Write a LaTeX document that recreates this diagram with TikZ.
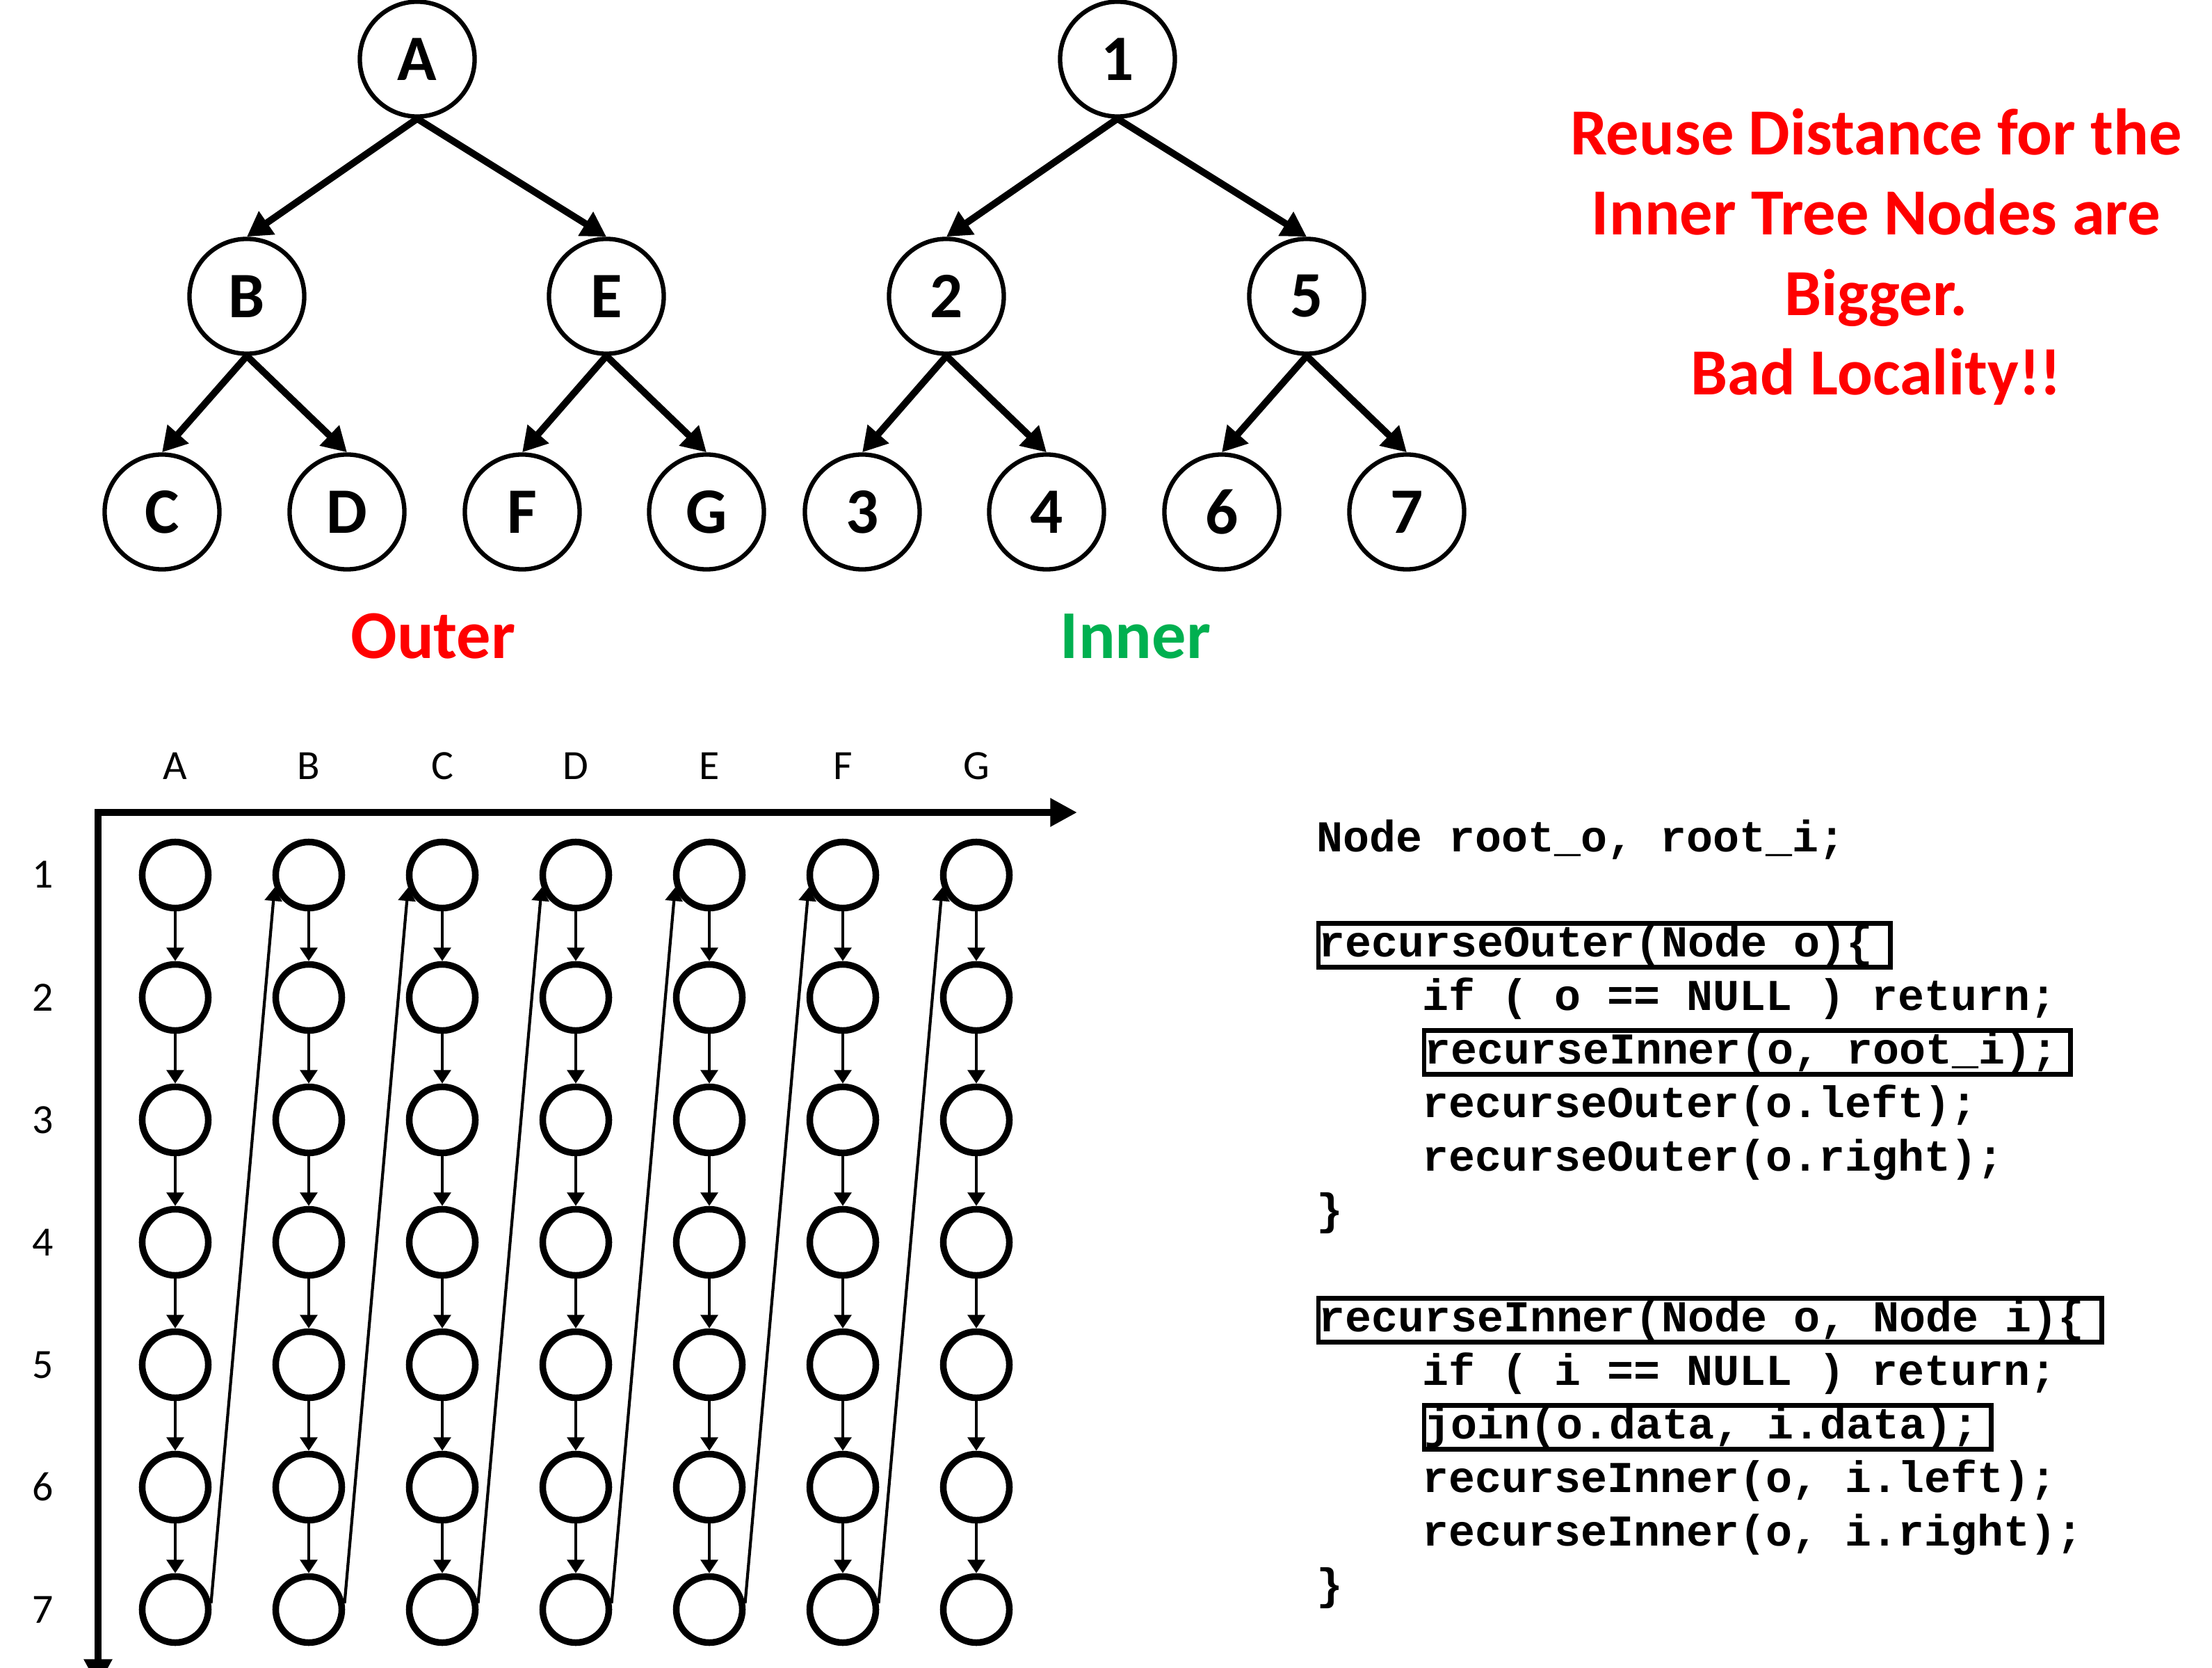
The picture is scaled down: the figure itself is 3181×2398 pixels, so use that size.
\documentclass[tikz,border=0pt]{standalone}
\usepackage{fontspec}
\setmainfont{Carlito}
\newfontfamily\codefont{Liberation Mono}
\usetikzlibrary{arrows.meta}
\definecolor{pptred}{RGB}{255,0,0}
\definecolor{pptgreen}{RGB}{0,176,80}
\begin{document}
\begin{tikzpicture}[x=0.01cm,y=-0.01cm,
  tnode/.style={circle,draw,line width=1.8pt,minimum size=1.65cm,inner sep=0pt,font=\fontsize{26.5}{30}\selectfont\bfseries},
  tedge/.style={line width=2.8pt,-{Triangle[length=10pt,width=11pt]}},
  gnode/.style={circle,draw,line width=2.7pt,minimum size=0.95cm,inner sep=0pt},
  gedge/.style={line width=1.2pt,-{Triangle[length=5.5pt,width=7pt]}},
  axis/.style={line width=3.1pt},
  glabel/.style={anchor=base,inner sep=0pt,font=\fontsize{17}{20}\selectfont},
  code/.style={anchor=west,inner xsep=0pt,inner ysep=0pt,text height=13.7pt,text depth=4.3pt,font=\fontsize{18}{22}\selectfont\codefont\bfseries},
  codebox/.style={code,draw,line width=1.8pt},
  redtext/.style={anchor=base,inner sep=0pt,text=pptred,font=\fontsize{26.9}{32}\selectfont\bfseries},
  treelabel/.style={anchor=base,inner sep=0pt,font=\fontsize{28}{32}\selectfont\bfseries}
]
\clip (0,0) rectangle (3181,2398);
\fill[white] (0,0) rectangle (3181,2398);

% Outer tree
\node[tnode] (A) at (600,85) {A};
\node[tnode] (B) at (355,426) {B};
\node[tnode] (E) at (872,426) {E};
\node[tnode] (C) at (233,736) {C};
\node[tnode] (D) at (499,736) {D};
\node[tnode] (F) at (751,736) {F};
\node[tnode] (G) at (1016,736) {G};
\draw[tedge] (A.south) -- (B.north);
\draw[tedge] (A.south) -- (E.north);
\draw[tedge] (B.south) -- (C.north);
\draw[tedge] (B.south) -- (D.north);
\draw[tedge] (E.south) -- (F.north);
\draw[tedge] (E.south) -- (G.north);

% Inner tree
\node[tnode] (n1) at (1607,85) {1};
\node[tnode] (n2) at (1361,426) {2};
\node[tnode] (n5) at (1879,426) {5};
\node[tnode] (n3) at (1240,736) {3};
\node[tnode] (n4) at (1505,736) {4};
\node[tnode] (n6) at (1757,736) {6};
\node[tnode] (n7) at (2023,736) {7};
\draw[tedge] (n1.south) -- (n2.north);
\draw[tedge] (n1.south) -- (n5.north);
\draw[tedge] (n2.south) -- (n3.north);
\draw[tedge] (n2.south) -- (n4.north);
\draw[tedge] (n5.south) -- (n6.north);
\draw[tedge] (n5.south) -- (n7.north);

\node[treelabel,text=pptred] (outerlbl) at (623,947) {Outer};
\node[treelabel,text=pptgreen] (innerlbl) at (1633,947) {Inner};

% Red note
\node[redtext] (t1) at (2698,223) {Reuse Distance for the};
\node[redtext] (t2) at (2698,338) {Inner Tree Nodes are};
\node[redtext] (t3) at (2698,454) {Bigger.};
\node[redtext] (t4) at (2698,568) {Bad Locality!!};

% Axes
\coordinate (hstart) at (136,1168);
\coordinate (hend) at (1549,1168);
\coordinate (vstart) at (141,1163);
\coordinate (vend) at (141,2424);
\draw[axis,-{Triangle[length=11pt,width=11pt]}] (hstart) -- (hend);
\draw[axis,-{Triangle[length=11pt,width=11pt]}] (vstart) -- (vend);

% Column and row labels
\foreach \l [count=\j] in {A,B,C,D,E,F,G} {
  \node[glabel] (c\l) at ({252+192*(\j-1)},1121) {\l};
}
\foreach \i in {1,...,7} {
  \node[glabel] (r\i) at (62,{1258+176*(\i-1)+19}) {\i};
}

% Grid nodes
\foreach \j in {1,...,7} {
  \foreach \i in {1,...,7} {
    \node[gnode] (g-\j-\i) at ({252+192*(\j-1)},{1258+176*(\i-1)}) {};
  }
}
% vertical arrows
\foreach \j in {1,...,7} {
  \foreach \i [evaluate=\i as \k using int(\i+1)] in {1,...,6} {
    \draw[gedge] (g-\j-\i.south) -- (g-\j-\k.north);
  }
}
% diagonal arrows
\foreach \j [evaluate=\j as \k using int(\j+1)] in {1,...,6} {
  \draw[gedge] (g-\j-7.10) -- (g-\k-1.200);
}

% Code
\node[code] (l0) at (1893,1208) {Node root\_o, root\_i;};
\node[codebox] (l2) at (1893,1359) {recurseOuter(Node o)\{\hspace*{7pt}};
\node[code] (l3) at (2045,1436) {if ( o == NULL ) return;};
\node[codebox] (l4) at (2045,1513) {recurseInner(o, root\_i);\hspace*{5pt}};
\node[code] (l5) at (2045,1590) {recurseOuter(o.left);};
\node[code] (l6) at (2045,1667) {recurseOuter(o.right);};
\node[code] (l7) at (1893,1744) {\}};
\node[codebox] (l9) at (1893,1898) {recurseInner(Node o, Node i)\{\hspace*{7pt}};
\node[code] (l10) at (2045,1975) {if ( i == NULL ) return;};
\node[codebox] (l11) at (2045,2052) {join(o.data, i.data);\hspace*{5pt}};
\node[code] (l12) at (2045,2129) {recurseInner(o, i.left);};
\node[code] (l13) at (2045,2206) {recurseInner(o, i.right);};
\node[code] (l14) at (1893,2283) {\}};
\end{tikzpicture}
\end{document}
